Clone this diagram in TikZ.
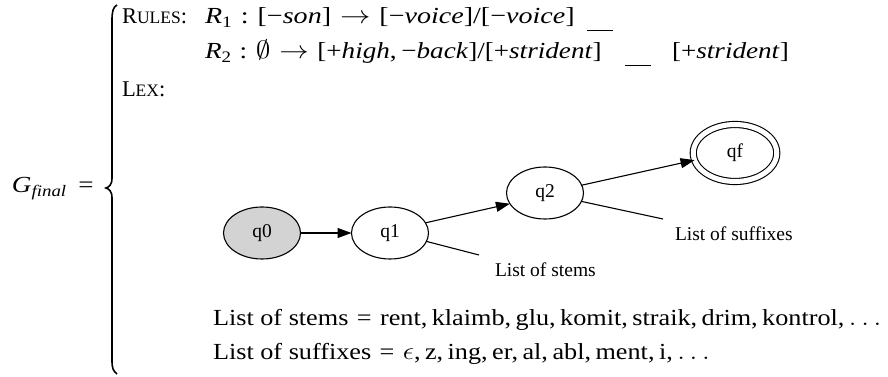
\documentclass[tikz,border=0pt]{standalone}
\usepackage{fontspec}
\setmainfont{Liberation Serif}
\usetikzlibrary{arrows.meta,shapes.geometric}
\definecolor{lightgrey}{HTML}{D3D3D3}
\newcommand{\mi}[1]{\textit{#1}}
\newcommand{\sx}[2][1.18]{\scalebox{#1}[1]{#2}}
\newcommand{\fsc}[2]{#1{\fontsize{17.5}{20}\selectfont #2}}
\newcommand{\blankline}{\rule[-7pt]{26pt}{1.1pt}}
\newcommand{\mnus}{−}
\newcommand{\tsp}{\hspace{0.32em}}
\newcommand{\csp}{\hspace{0.17em}}
\newcommand{\subs}[1]{\raisebox{-4pt}{\fontsize{16}{18}\selectfont #1}}
\begin{document}
\begin{tikzpicture}[x=1pt,y=1pt,
  every node/.style={inner sep=0pt, outer sep=0pt},
  maintext/.style={anchor=base west, font=\fontsize{23}{27}\selectfont},
  headtext/.style={anchor=base west, font=\fontsize{22.5}{27}\selectfont},
  state/.style={ellipse, draw, line width=1.1pt, minimum width=77pt, minimum height=52pt,
    font=\fontsize{19.5}{22}\selectfont},
  glabel/.style={anchor=base west, font=\fontsize{19.5}{22}\selectfont},
  edge/.style={line width=1.1pt, -{Triangle[length=14pt,width=10pt]}},
  plainline/.style={line width=1.1pt}]
\useasboundingbox (0,0) rectangle (888,377);
% brace
\draw[line width=1.6pt] (117,372) .. controls (113,370) and (112,365) .. (112,357)
  -- (112,199) .. controls (112,192) and (109,190) .. (106,189)
  .. controls (109,188) and (112,186) .. (112,179)
  -- (112,17) .. controls (112,9) and (113,6) .. (117,3);
\node[maintext] (gfinal) at (12,184) {\sx{\mi{G}\subs{\mi{final}}\hspace{0.45em}=}};
\node[headtext] (rules) at (122,353) {\fsc{R}{ULES}:};
\node[maintext] (r1) at (205,353) {\sx[1.22]{\mi{R}\subs{1}\tsp:\tsp[\mnus\mi{son}]\tsp$\rightarrow$\tsp[\mnus\mi{voice}]/[\mnus\mi{voice}]}};
\node[maintext] (r2) at (205,318) {\sx{\mi{R}\subs{2}\tsp:\tsp$\emptyset$\tsp$\rightarrow$\tsp[+\mi{high},\csp\mnus\mi{back}]/[+\mi{strident}]}};
\node[maintext] (blank1) at (587,353) {\blankline};
\node[maintext] (blank2) at (625,318) {\blankline};
\node[maintext] (r2b) at (672,318) {\sx{[+\mi{strident}]}};
\node[headtext] (lex) at (122,280) {\fsc{L}{EX}:};
\node[maintext] (stems) at (213,51) {\sx[1.14]{List of stems\tsp=\tsp rent,\csp klaimb,\csp glu,\csp komit,\csp straik,\csp drim,\csp kontrol,\csp$\ldots$}};
\node[maintext] (suffixes) at (213,17) {\sx[1.14]{List of suffixes\tsp=\tsp$\epsilon$,\csp z,\csp ing,\csp er,\csp al,\csp abl,\csp ment,\csp i,\csp$\ldots$}};
% automaton
\node[state, fill=lightgrey] (q0) at (262,144) {q0};
\node[state] (q1) at (390,144) {q1};
\node[state] (q2) at (545,184) {q2};
\node[state, double, double distance=5pt, minimum width=83.5pt, minimum height=57pt] (qf) at (735,224) {qf};
\node[glabel] (lstems) at (495,100) {List of stems};
\node[glabel] (lsuff) at (675,136) {List of suffixes};
\coordinate (se) at (479,122);
\coordinate (sfe) at (663,158);
\draw[edge] (q0) -- (q1);
\draw[edge] (q1.16) -- (q2.197);
\draw[edge] (q2.12) -- (qf.190);
\draw[plainline] (q1.-13) -- (se);
\draw[plainline] (q2.-13) -- (sfe);
\end{tikzpicture}
\end{document}
